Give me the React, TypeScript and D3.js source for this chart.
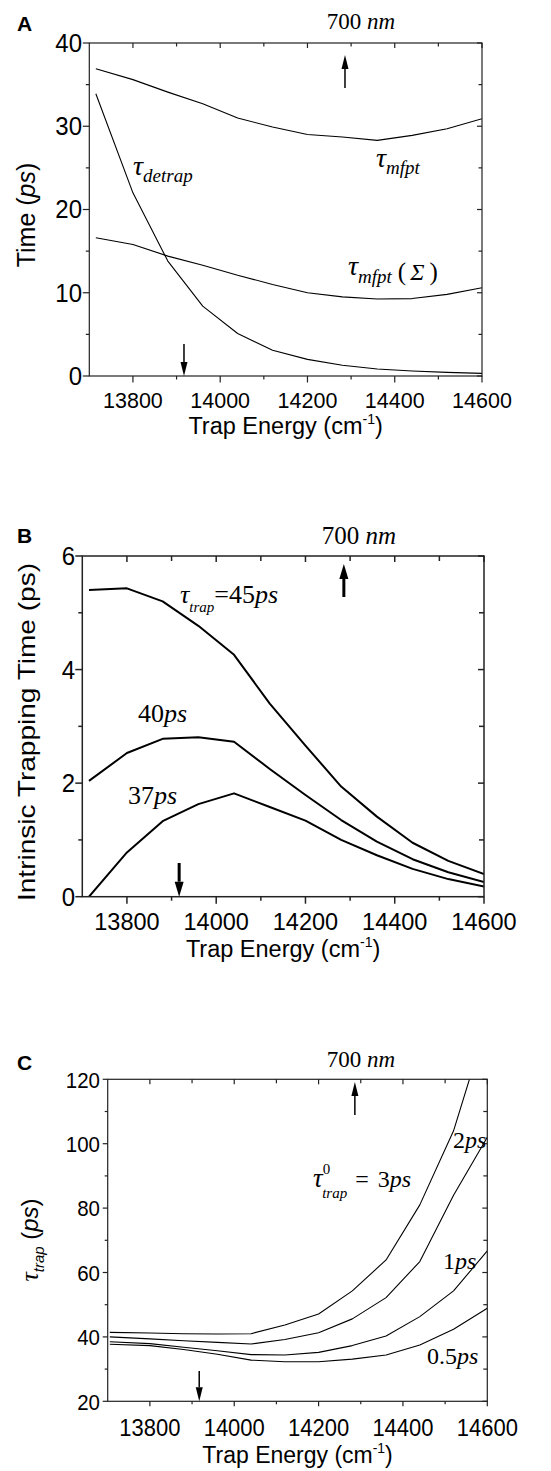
import React from "react";
import * as d3 from "d3";

// ---------- data ----------
const X_AB = [13715, 13800, 13880, 13960, 14040, 14120, 14200, 14280, 14360, 14440, 14520, 14600];
const A_MFPT = [36.9, 35.6, 34.1, 32.7, 31.0, 29.9, 29.0, 28.7, 28.3, 28.9, 29.7, 30.9];
const A_MFPT_SIGMA = [16.6, 15.8, 14.4, 13.3, 12.1, 11.0, 10.0, 9.5, 9.25, 9.3, 9.8, 10.6];
const A_DETRAP = [33.9, 22.0, 13.8, 8.4, 5.1, 3.1, 2.0, 1.3, 0.84, 0.6, 0.44, 0.32];

const B_45 = [5.4, 5.43, 5.2, 4.77, 4.26, 3.4, 2.66, 1.94, 1.41, 0.95, 0.63, 0.4];
const B_40 = [2.04, 2.53, 2.78, 2.81, 2.73, 2.25, 1.79, 1.35, 0.97, 0.66, 0.43, 0.26];
const B_37 = [0.0, 0.78, 1.33, 1.63, 1.82, 1.58, 1.34, 1.0, 0.73, 0.49, 0.31, 0.18];

const X_C = [13705, 13800, 13880, 13960, 14040, 14120, 14200, 14280, 14360, 14440, 14520, 14600];
const C_3 = [41.4, 41.2, 41.0, 40.9, 41.0, 43.7, 47.1, 54.3, 63.9, 81, 104, 138];
const C_2 = [40.0, 39.4, 38.8, 38.3, 37.8, 39.2, 41.3, 45.6, 52.2, 63.4, 84, 102];
const C_1 = [38.5, 37.9, 36.8, 35.7, 34.5, 34.4, 35.2, 37.3, 40.3, 46.3, 54.3, 66.7];
const C_05 = [37.7, 37.3, 36.1, 34.6, 32.8, 32.3, 32.3, 33.1, 34.4, 37.5, 42.4, 48.9];

const X_DOMAIN = [13700, 14600];
const X_TICKS = [13800, 14000, 14200, 14400, 14600];
const X_MINOR = [13900, 14100, 14300, 14500];
const A_Y_TICKS = [0, 10, 20, 30, 40];
const A_Y_MINOR = [5, 15, 25, 35];
const B_Y_TICKS = [0, 2, 4, 6];
const B_Y_MINOR = [1, 3, 5];
const C_Y_TICKS = [20, 40, 60, 80, 100, 120];
const C_Y_MINOR = [30, 50, 70, 90, 110];

const NM700 = 14286; // 700 nm
const DOWN_X = 13917;

const SANS = "'Liberation Sans', Arial, sans-serif";
const SERIF = "'Liberation Serif', 'Times New Roman', serif";

type PanelProps = {
  id: string;
  x0: number; x1: number; y0: number; y1: number;
  yDomain: [number, number];
  yTicks: number[]; yMinor: number[];
  xs: number[]; series: number[][];
  lineW: number; frameW: number;
  xTickFont: number; yTickFont: number; sy: number;
  xLabelBase: number; yLabelRight: number;
  titleBase: number; titleFont: number;
  outMajor: number; outMinor: number; inMajor: number; inMinor: number;
  upTip: number; upTail: number; downTail: number;
  arrowHeadW: number; arrowHeadL: number; arrowW: number;
  children?: (x: d3.ScaleLinear<number, number>, y: d3.ScaleLinear<number, number>) => React.ReactNode;
};

function Arrow({ x, tail, tip, w, l, sw }: { x: number; tail: number; tip: number; w: number; l: number; sw: number }) {
  const dir = tip < tail ? -1 : 1;
  const base = tip - dir * l;
  return (
    <g>
      <line x1={x} x2={x} y1={tail} y2={base} stroke="#000" strokeWidth={sw} />
      <polygon points={`${x - w / 2},${base} ${x + w / 2},${base} ${x},${tip}`} fill="#000" />
    </g>
  );
}

function Panel(p: PanelProps) {
  const x = d3.scaleLinear().domain(X_DOMAIN).range([p.x0, p.x1]);
  const y = d3.scaleLinear().domain(p.yDomain).range([p.y1, p.y0]);
  const gen = d3
    .line<[number, number]>()
    .x((d) => x(d[0]))
    .y((d) => y(d[1]));
  const clipId = `clip-${p.id}`;
  return (
    <g>
      <defs>
        <clipPath id={clipId}>
          <rect x={p.x0} y={p.y0} width={p.x1 - p.x0} height={p.y1 - p.y0} />
        </clipPath>
      </defs>
      <g clipPath={`url(#${clipId})`}>
        {p.series.map((s, i) => (
          <path
            key={i}
            d={gen(p.xs.map((xv, j) => [xv, s[j]] as [number, number])) || ""}
            fill="none"
            stroke="#000"
            strokeWidth={p.lineW}
            strokeLinejoin="round"
          />
        ))}
      </g>
      {/* frame */}
      <rect x={p.x0} y={p.y0} width={p.x1 - p.x0} height={p.y1 - p.y0} fill="none" stroke="#222" strokeWidth={p.frameW} />
      {/* x ticks */}
      {X_TICKS.map((t) => (
        <g key={`xt${t}`}>
          <line x1={x(t)} x2={x(t)} y1={p.y1} y2={p.y1 + p.outMajor} stroke="#222" strokeWidth={p.frameW} />
          <line x1={x(t)} x2={x(t)} y1={p.y0} y2={p.y0 + p.inMajor} stroke="#222" strokeWidth={p.frameW} />
          <g transform={`translate(${x(t)},${p.xLabelBase}) scale(1,${p.sy})`}>
            <text x={0} y={0} textAnchor="middle" fontFamily={SANS} fontSize={p.xTickFont} fill="#000">
              {t}
            </text>
          </g>
        </g>
      ))}
      {X_MINOR.map((t) => (
        <g key={`xm${t}`}>
          <line x1={x(t)} x2={x(t)} y1={p.y1} y2={p.y1 + p.outMinor} stroke="#222" strokeWidth={p.frameW} />
          <line x1={x(t)} x2={x(t)} y1={p.y0} y2={p.y0 + p.inMinor} stroke="#222" strokeWidth={p.frameW} />
        </g>
      ))}
      {/* y ticks */}
      {p.yTicks.map((t) => (
        <g key={`yt${t}`}>
          <line x1={p.x0 - p.outMajor} x2={p.x0} y1={y(t)} y2={y(t)} stroke="#222" strokeWidth={p.frameW} />
          <line x1={p.x1 - p.inMajor} x2={p.x1} y1={y(t)} y2={y(t)} stroke="#222" strokeWidth={p.frameW} />
          <g transform={`translate(${p.yLabelRight},${y(t)}) scale(1,${p.sy})`}>
            <text x={0} y={p.yTickFont * 0.36} textAnchor="end" fontFamily={SANS} fontSize={p.yTickFont} fill="#000">
              {t}
            </text>
          </g>
        </g>
      ))}
      {p.yMinor.map((t) => (
        <g key={`ym${t}`}>
          <line x1={p.x0 - p.outMinor} x2={p.x0} y1={y(t)} y2={y(t)} stroke="#222" strokeWidth={p.frameW} />
          <line x1={p.x1 - p.inMinor} x2={p.x1} y1={y(t)} y2={y(t)} stroke="#222" strokeWidth={p.frameW} />
        </g>
      ))}
      {/* x title */}
      <text x={(p.x0 + p.x1) / 2} y={p.titleBase} textAnchor="middle" fontFamily={SANS} fontSize={p.titleFont} fill="#000">
        Trap Energy (cm
        <tspan fontSize={p.titleFont * 0.6} dy={-p.titleFont * 0.42}>
          -1
        </tspan>
        <tspan dy={p.titleFont * 0.42}>)</tspan>
      </text>
      {/* arrows */}
      <Arrow x={x(NM700)} tail={p.upTail} tip={p.upTip} w={p.arrowHeadW} l={p.arrowHeadL} sw={p.arrowW} />
      <Arrow x={x(DOWN_X)} tail={p.downTail} tip={p.y1} w={p.arrowHeadW} l={p.arrowHeadL} sw={p.arrowW} />
      {p.children ? p.children(x, y) : null}
    </g>
  );
}

function NmLabel({ cx, base, size }: { cx: number; base: number; size: number }) {
  return (
    <text x={cx} y={base} textAnchor="middle" fontFamily={SERIF} fontSize={size} fill="#000">
      700 <tspan fontStyle="italic">nm</tspan>
    </text>
  );
}

export default function App() {
  return (
    <svg width={551} height={1471} style={{ position: "absolute", left: 0, top: 0, background: "#fff" }}>
      <rect x={0} y={0} width={551} height={1471} fill="#fff" />

      {/* ---------------- Panel A ---------------- */}
      <text x={17} y={31} fontFamily={SANS} fontWeight="bold" fontSize={21}>A</text>
      <NmLabel cx={361} base={29} size={23} />
      <Panel
        id="A"
        x0={89.3} x1={482} y0={43} y1={376}
        yDomain={[0, 40]} yTicks={A_Y_TICKS} yMinor={A_Y_MINOR}
        xs={X_AB} series={[A_MFPT, A_MFPT_SIGMA, A_DETRAP]}
        lineW={1.1} frameW={1.2}
        xTickFont={21.5} yTickFont={24} sy={1.04}
        xLabelBase={408} yLabelRight={82}
        titleBase={434} titleFont={23.5}
        outMajor={6.5} outMinor={3.5} inMajor={5} inMinor={3.5}
        upTip={55} upTail={88} downTail={344}
        arrowHeadW={7} arrowHeadL={14} arrowW={1.5}
      >
        {() => (
          <g fontFamily={SERIF} fontStyle="italic" fill="#000">
            <text x={133} y={175} fontSize={28}>
              τ<tspan fontSize={19} dy={7}>detrap</tspan>
            </text>
            <text x={376} y={167} fontSize={28}>
              τ<tspan fontSize={19} dy={7}>mfpt</tspan>
            </text>
            <text x={348} y={275} fontSize={28}>
              τ<tspan fontSize={19} dy={8}>mfpt</tspan>
              <tspan fontSize={25} fontStyle="normal" dy={-3} dx={6}>(</tspan>
              <tspan fontSize={24} dx={4}>Σ</tspan>
              <tspan fontSize={25} fontStyle="normal" dx={5}>)</tspan>
            </text>
          </g>
        )}
      </Panel>
      <text transform="translate(35,215) rotate(-90)" textAnchor="middle" fontFamily={SANS} fontSize={25}>
        Time (<tspan fontStyle="italic">ps</tspan>)
      </text>

      {/* ---------------- Panel B ---------------- */}
      <text x={17} y={543} fontFamily={SANS} fontWeight="bold" fontSize={21}>B</text>
      <NmLabel cx={359} base={544} size={25} />
      <Panel
        id="B"
        x0={82.3} x1={484} y0={556} y1={896.7}
        yDomain={[0, 6]} yTicks={B_Y_TICKS} yMinor={B_Y_MINOR}
        xs={X_AB} series={[B_45, B_40, B_37]}
        lineW={2} frameW={1.5}
        xTickFont={23.5} yTickFont={24} sy={1.04}
        xLabelBase={930} yLabelRight={75}
        titleBase={957} titleFont={23.5}
        outMajor={7} outMinor={4} inMajor={6} inMinor={5}
        upTip={564} upTail={597} downTail={863}
        arrowHeadW={9} arrowHeadL={15} arrowW={3}
      >
        {() => (
          <g fontFamily={SERIF} fill="#000" fontSize={26}>
            <text x={180} y={603}>
              <tspan fontStyle="italic">τ</tspan>
              <tspan fontStyle="italic" fontSize={15} dy={9}>trap</tspan>
              <tspan dy={-9}>=45</tspan>
              <tspan fontStyle="italic">ps</tspan>
            </text>
            <text x={138} y={722}>
              40<tspan fontStyle="italic">ps</tspan>
            </text>
            <text x={128} y={804}>
              37<tspan fontStyle="italic">ps</tspan>
            </text>
          </g>
        )}
      </Panel>
      <text
        transform="translate(35,732) rotate(-90)"
        textAnchor="middle"
        fontFamily={SANS}
        fontSize={24}
        textLength={338}
        lengthAdjust="spacingAndGlyphs"
      >
        Intrinsic Trapping Time (ps)
      </text>

      {/* ---------------- Panel C ---------------- */}
      <text x={17} y={1070} fontFamily={SANS} fontWeight="bold" fontSize={21}>C</text>
      <NmLabel cx={361} base={1067} size={23} />
      <Panel
        id="C"
        x0={107.7} x1={487.3} y0={1079.3} y1={1401.3}
        yDomain={[20, 120]} yTicks={C_Y_TICKS} yMinor={C_Y_MINOR}
        xs={X_C} series={[C_3, C_2, C_1, C_05]}
        lineW={1.1} frameW={1.2}
        xTickFont={22} yTickFont={20.5} sy={1.12}
        xLabelBase={1436} yLabelRight={100}
        titleBase={1463} titleFont={23}
        outMajor={5} outMinor={3} inMajor={5} inMinor={4}
        upTip={1082} upTail={1115} downTail={1371}
        arrowHeadW={7} arrowHeadL={14} arrowW={1.5}
      >
        {() => (
          <g fontFamily={SERIF} fill="#000" fontSize={24}>
            <text x={453} y={1148}>
              2<tspan fontStyle="italic">ps</tspan>
            </text>
            <text x={313} y={1187}>
              <tspan fontStyle="italic" fontSize={27}>τ</tspan>
              <tspan fontSize={15} dy={-13}>0</tspan>
              <tspan fontStyle="italic" fontSize={15} dx={-8} dy={24}>trap</tspan>
              <tspan dy={-11} dx={8}>=</tspan>
              <tspan dx={9}>3</tspan>
              <tspan fontStyle="italic">ps</tspan>
            </text>
            <text x={443} y={1269}>
              1<tspan fontStyle="italic">ps</tspan>
            </text>
            <text x={427} y={1364}>
              0.5<tspan fontStyle="italic">ps</tspan>
            </text>
          </g>
        )}
      </Panel>
      <text transform="translate(38,1240) rotate(-90)" textAnchor="middle" fontFamily={SANS} fontSize={24}>
        <tspan fontFamily={SERIF} fontStyle="italic" fontSize={26}>τ</tspan>
        <tspan fontStyle="italic" fontSize={15} dy={6}>trap</tspan>
        <tspan dy={-6}> (</tspan>
        <tspan fontStyle="italic">ps</tspan>
        <tspan>)</tspan>
      </text>
    </svg>
  );
}
